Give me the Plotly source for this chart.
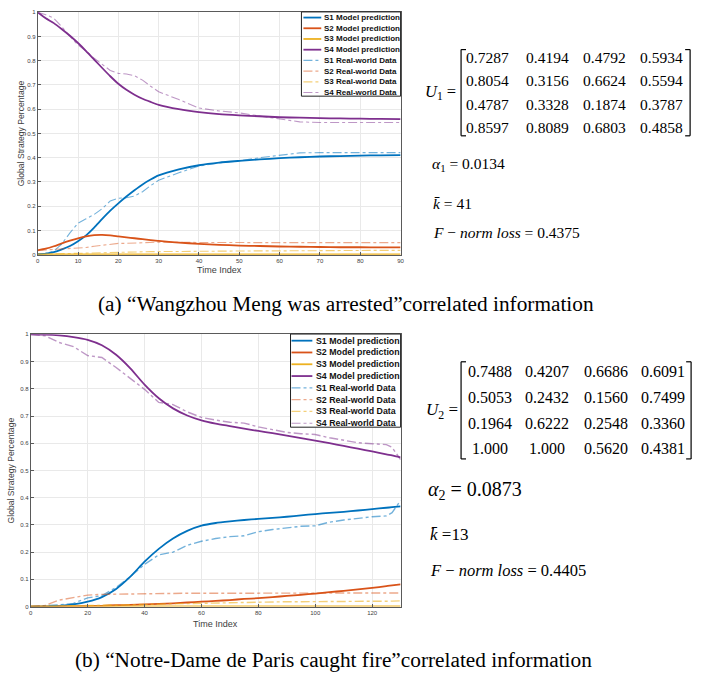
import plotly.graph_objects as go

W, H = 707, 676

# ---------------- data: panel (a) ----------------
xa = [0, 2, 4, 6, 8, 10, 12, 14, 16, 18, 20, 22, 24, 26, 28, 30, 35, 40, 45, 50, 55, 60, 65, 70, 75, 80, 85, 90]
a_s1_model = [0.002, 0.005, 0.011, 0.022, 0.036, 0.056, 0.08, 0.112, 0.148, 0.182, 0.212, 0.24, 0.266, 0.29, 0.31, 0.327, 0.352, 0.369, 0.38, 0.387, 0.393, 0.398, 0.402, 0.405, 0.407, 0.409, 0.41, 0.411]
a_s2_model = [0.018, 0.025, 0.035, 0.047, 0.058, 0.068, 0.076, 0.081, 0.082, 0.08, 0.076, 0.072, 0.068, 0.064, 0.06, 0.057, 0.05, 0.045, 0.041, 0.038, 0.036, 0.034, 0.033, 0.032, 0.031, 0.031, 0.03, 0.03]
a_s3_model = [0.001] * 28
a_s4_model = [1.0, 0.975, 0.955, 0.93, 0.903, 0.873, 0.84, 0.805, 0.77, 0.736, 0.705, 0.68, 0.66, 0.643, 0.63, 0.618, 0.6, 0.588, 0.58, 0.575, 0.571, 0.567, 0.565, 0.563, 0.562, 0.561, 0.56, 0.559]
a_s1_real = [0.002, 0.006, 0.015, 0.045, 0.09, 0.13, 0.148, 0.166, 0.19, 0.222, 0.233, 0.235, 0.242, 0.26, 0.285, 0.307, 0.338, 0.366, 0.378, 0.387, 0.4, 0.411, 0.42, 0.421, 0.421, 0.421, 0.421, 0.421]
a_s2_real = [0.018, 0.02, 0.022, 0.024, 0.025, 0.027, 0.03, 0.035, 0.04, 0.045, 0.047, 0.047, 0.048, 0.049, 0.051, 0.052, 0.051, 0.05, 0.05, 0.05, 0.05, 0.05, 0.05, 0.05, 0.05, 0.05, 0.05, 0.05]
a_s3_real = [0.002, 0.003, 0.004, 0.005, 0.006, 0.007, 0.008, 0.009, 0.009, 0.01, 0.01, 0.011, 0.012, 0.012, 0.013, 0.013, 0.014, 0.014, 0.015, 0.015, 0.016, 0.016, 0.017, 0.017, 0.017, 0.018, 0.018, 0.018]
a_s4_real = [1.0, 0.99, 0.975, 0.94, 0.9, 0.865, 0.84, 0.81, 0.785, 0.76, 0.748, 0.745, 0.738, 0.72, 0.695, 0.672, 0.64, 0.605, 0.593, 0.585, 0.572, 0.56, 0.548, 0.545, 0.545, 0.545, 0.545, 0.545]

# ---------------- data: panel (b) ----------------
xb = [0, 5, 10, 15, 20, 25, 30, 35, 40, 45, 50, 55, 60, 65, 70, 75, 80, 85, 90, 95, 100, 105, 110, 115, 120, 125, 127, 130]
b_s1_model = [0.0, 0.001, 0.003, 0.008, 0.018, 0.035, 0.065, 0.11, 0.165, 0.212, 0.25, 0.278, 0.297, 0.307, 0.313, 0.318, 0.322, 0.326, 0.33, 0.335, 0.34, 0.344, 0.348, 0.353, 0.358, 0.363, 0.365, 0.368]
b_s2_model = [0.0, 0.0, 0.0005, 0.001, 0.002, 0.003, 0.005, 0.006, 0.008, 0.01, 0.012, 0.015, 0.018, 0.021, 0.024, 0.028, 0.031, 0.035, 0.039, 0.043, 0.048, 0.053, 0.058, 0.063, 0.069, 0.075, 0.078, 0.082]
b_s3_model = [0.0005] * 28
b_s4_model = [1.0, 0.999, 0.996, 0.99, 0.98, 0.96, 0.925, 0.875, 0.815, 0.765, 0.728, 0.702, 0.684, 0.672, 0.663, 0.654, 0.645, 0.637, 0.628, 0.619, 0.61, 0.6, 0.59, 0.58, 0.57, 0.559, 0.555, 0.548]
b_s1_real = [0.0, 0.002, 0.006, 0.012, 0.032, 0.04, 0.07, 0.11, 0.155, 0.19, 0.2, 0.225, 0.24, 0.25, 0.257, 0.26, 0.275, 0.283, 0.29, 0.295, 0.297, 0.31, 0.318, 0.325, 0.33, 0.333, 0.345, 0.39]
b_s2_real = [0.0, 0.004, 0.024, 0.032, 0.042, 0.045, 0.046, 0.047, 0.048, 0.048, 0.048, 0.049, 0.049, 0.049, 0.049, 0.05, 0.05, 0.05, 0.05, 0.05, 0.05, 0.05, 0.05, 0.05, 0.05, 0.05, 0.05, 0.05]
b_s3_real = [0.0, 0.001, 0.002, 0.003, 0.005, 0.006, 0.007, 0.008, 0.009, 0.01, 0.011, 0.012, 0.014, 0.015, 0.016, 0.016, 0.017, 0.017, 0.018, 0.018, 0.018, 0.019, 0.019, 0.019, 0.019, 0.02, 0.02, 0.021]
b_s4_real = [1.0, 0.995, 0.97, 0.955, 0.922, 0.915, 0.878, 0.838, 0.798, 0.75, 0.742, 0.715, 0.695, 0.685, 0.677, 0.674, 0.66, 0.65, 0.64, 0.635, 0.632, 0.62, 0.61, 0.602, 0.598, 0.595, 0.585, 0.54]

legend_names = ["S1 Model prediction", "S2 Model prediction", "S3 Model prediction", "S4 Model prediction",
                "S1 Real-world Data", "S2 Real-world Data", "S3 Real-world Data", "S4 Real-world Data"]

U1 = [["0.7287", "0.4194", "0.4792", "0.5934"],
      ["0.8054", "0.3156", "0.6624", "0.5594"],
      ["0.4787", "0.3328", "0.1874", "0.3787"],
      ["0.8597", "0.8089", "0.6803", "0.4858"]]
U2 = [["0.7488", "0.4207", "0.6686", "0.6091"],
      ["0.5053", "0.2432", "0.1560", "0.7499"],
      ["0.1964", "0.6222", "0.2548", "0.3360"],
      ["1.000", "1.000", "0.5620", "0.4381"]]
alpha1, alpha2 = "0.0134", "0.0873"
kbar1, kbar2 = "41", "13"
floss1, floss2 = "0.4375", "0.4405"
caption_a = "(a) \u201cWangzhou Meng was arrested\u201dcorrelated information"
caption_b = "(b) \u201cNotre-Dame de Paris caught fire\u201dcorrelated information"

# ---------------- styles ----------------
solid_cols = ["#0072BD", "#D95319", "#EDB120", "#7E2F8E"]
real_cols = ["rgba(0,114,189,0.55)", "rgba(217,83,25,0.5)", "rgba(237,177,32,0.6)", "rgba(126,47,142,0.5)"]
SANS = "Liberation Sans, Arial, sans-serif"
SERIF = "Liberation Serif, Times New Roman, serif"


def PX(x):
    return x / W


def PY(y):
    return 1 - y / H


fig = go.Figure()

panels = [
    dict(x=xa, model=[a_s1_model, a_s2_model, a_s3_model, a_s4_model],
         real=[a_s1_real, a_s2_real, a_s3_real, a_s4_real], xa="x", ya="y", rw=1.1),
    dict(x=xb, model=[b_s1_model, b_s2_model, b_s3_model, b_s4_model],
         real=[b_s1_real, b_s2_real, b_s3_real, b_s4_real], xa="x2", ya="y2", rw=1.4),
]
for p in panels:
    for i in range(4):
        fig.add_trace(go.Scatter(x=p["x"], y=p["model"][i], mode="lines", xaxis=p["xa"], yaxis=p["ya"],
                                 line=dict(color=solid_cols[i], width=1.8, shape="spline", smoothing=0.6),
                                 showlegend=False, hoverinfo="skip"))
    for i in range(4):
        fig.add_trace(go.Scatter(x=p["x"], y=p["real"][i], mode="lines", xaxis=p["xa"], yaxis=p["ya"],
                                 line=dict(color=real_cols[i], width=p["rw"], dash="dashdot"),
                                 showlegend=False, hoverinfo="skip"))

axis_common = dict(showgrid=True, gridcolor="#e9e9e9", gridwidth=1, zeroline=False,
                   showline=True, mirror=True, linecolor="#5a5a5a", linewidth=1,
                   ticks="inside", ticklen=3, tickcolor="#5a5a5a",
                   tickfont=dict(family=SANS, size=6, color="#404040"))

# panel geometry in pixels
A = dict(l=36, r=402, t=9.3, b=254)
B = dict(l=29, r=402, t=334.3, b=609)

fig.update_layout(
    width=W, height=H, margin=dict(l=0, r=0, t=0, b=0),
    paper_bgcolor="white", plot_bgcolor="white",
    xaxis=dict(domain=[PX(A["l"]), PX(A["r"])], range=[0, 90], dtick=10, anchor="y", **axis_common),
    yaxis=dict(domain=[PY(A["b"]), PY(A["t"])], range=[0, 1], dtick=0.1, anchor="x", **axis_common),
    xaxis2=dict(domain=[PX(B["l"]), PX(B["r"])], range=[0, 130], dtick=20, anchor="y2", **axis_common),
    yaxis2=dict(domain=[PY(B["b"]), PY(B["t"])], range=[0, 1], dtick=0.1, anchor="x2", **axis_common),
)

shapes = []
annots = []

# axis titles
for geom, tx, ty_x in [(A, 269, 20), (B, 626.5, 10)]:
    annots.append(dict(text="Time Index", x=PX((geom["l"] + geom["r"]) / 2), y=PY(tx), xref="paper", yref="paper",
                       showarrow=False, xanchor="center", yanchor="middle",
                       font=dict(family=SANS, size=9, color="#404040")))
    annots.append(dict(text="Global Strategy Percentage", x=PX(ty_x), y=PY((geom["t"] + geom["b"]) / 2),
                       xref="paper", yref="paper", textangle=-90, showarrow=False,
                       xanchor="center", yanchor="middle", font=dict(family=SANS, size=8.6, color="#404040")))

# custom legends
legends = [dict(box=(302, 402, 9, 94), y0=14.7, dy=10.8, lx=(304, 322), tx=323, fs=8.0),
           dict(box=(291, 402, 334, 428), y0=340.7, dy=11.9, lx=(292, 313), tx=315, fs=8.8)]
for L in legends:
    x0, x1, y0, y1 = L["box"]
    shapes.append(dict(type="rect", xref="paper", yref="paper", x0=PX(x0), x1=PX(x1), y0=PY(y1), y1=PY(y0),
                       line=dict(color="#222", width=1), fillcolor="white", layer="above"))
    for k, name in enumerate(legend_names):
        yy = L["y0"] + k * L["dy"]
        if k < 4:
            ln = dict(color=solid_cols[k], width=1.8)
        else:
            ln = dict(color=real_cols[k - 4], width=1.2, dash="dashdot")
        shapes.append(dict(type="line", xref="paper", yref="paper", x0=PX(L["lx"][0]), x1=PX(L["lx"][1]),
                           y0=PY(yy), y1=PY(yy), line=ln, layer="above"))
        annots.append(dict(text="<b>" + name + "</b>", x=PX(L["tx"]), y=PY(yy), xref="paper", yref="paper",
                           showarrow=False, xanchor="left", yanchor="middle",
                           font=dict(family=SANS, size=L["fs"], color="#111")))

# matrices and parameters
mats = [dict(M=U1, lab="<i>U</i><sub>1</sub> =", labx=460, laby=90, rows=[55, 78.5, 102, 126],
             cols=[490, 550, 608, 665], br=(463, 694, 47, 134), fs=15.5,
             alpha=("<i>\u03b1</i><sub>1</sub> = " + alpha1, 432, 163, 15.5),
             kbar=("<i>k\u0304</i> = " + kbar1, 433, 202, 15.5),
             floss=("<i>F</i> \u2212 <i>norm loss</i> = " + floss1, 433, 232, 15.5)),
        dict(M=U2, lab="<i>U</i><sub>2</sub> =", labx=462, laby=412, rows=[372, 398, 424, 449],
             cols=[492, 550, 609, 667], br=(463, 695, 362, 460), fs=16,
             alpha=("<i>\u03b1</i><sub>2</sub> = " + alpha2, 428, 492, 20),
             kbar=("<i>k\u0304</i> =" + kbar2, 430, 536, 17),
             floss=("<i>F</i> \u2212 <i>norm loss</i> = " + floss2, 430, 573, 16.5))]
for m in mats:
    annots.append(dict(text=m["lab"], x=PX(m["labx"]), y=PY(m["laby"]), xref="paper", yref="paper",
                       showarrow=False, xanchor="right", yanchor="middle",
                       font=dict(family=SERIF, size=m["fs"] + 1, color="black")))
    for r, row in enumerate(m["M"]):
        for c, val in enumerate(row):
            annots.append(dict(text=val, x=PX(m["cols"][c]), y=PY(m["rows"][r]), xref="paper", yref="paper",
                               showarrow=False, xanchor="center", yanchor="middle",
                               font=dict(family=SERIF, size=m["fs"], color="black")))
    bl, brx, bt, bb = m["br"]
    for xv, d in [(bl, 5), (brx, -5)]:
        shapes.append(dict(type="line", xref="paper", yref="paper", x0=PX(xv), x1=PX(xv), y0=PY(bt), y1=PY(bb),
                           line=dict(color="black", width=1.2)))
        for yv in (bt, bb):
            shapes.append(dict(type="line", xref="paper", yref="paper", x0=PX(xv), x1=PX(xv + d), y0=PY(yv),
                               y1=PY(yv), line=dict(color="black", width=1.2)))
    for key in ("alpha", "kbar", "floss"):
        txt, xx, yy, fs = m[key]
        annots.append(dict(text=txt, x=PX(xx), y=PY(yy), xref="paper", yref="paper", showarrow=False,
                           xanchor="left", yanchor="middle", font=dict(family=SERIF, size=fs, color="black")))

# captions
for txt, cx, cy in [(caption_a, 347, 304), (caption_b, 334, 663)]:
    annots.append(dict(text=txt, x=PX(cx), y=PY(cy), xref="paper", yref="paper", showarrow=False,
                       xanchor="center", yanchor="middle", font=dict(family=SERIF, size=21.3, color="black")))

fig.update_layout(shapes=shapes, annotations=annots)
fig.write_html("out.html", config={"displayModeBar": False},
               post_script="document.body.style.margin='0';document.body.style.overflow='hidden';")
